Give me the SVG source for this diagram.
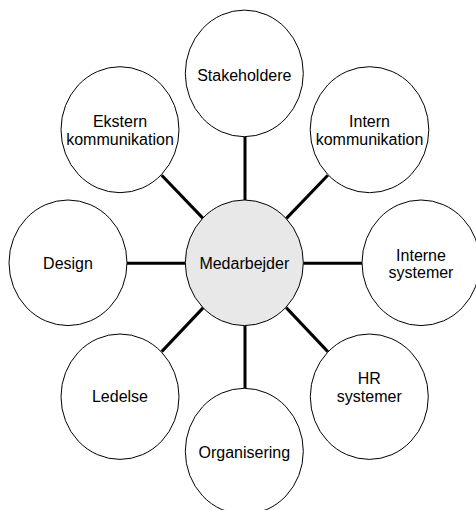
<svg xmlns="http://www.w3.org/2000/svg" width="476" height="510" viewBox="0 0 476 510">
<style>
.n{fill:#ffffff;stroke:#000000;stroke-width:1}
.c{fill:#e8e8e8;stroke:#000000;stroke-width:1}
.t{font-family:"Liberation Sans",Arial,sans-serif;font-size:16px;fill:#000000;text-anchor:middle}
.e{stroke:#000000;stroke-width:3;fill:none}
</style>
<rect width="476" height="510" fill="#ffffff"/>
<g id="connectors">
<line class="e" x1="245" y1="136.7" x2="245" y2="200"/>
<line class="e" x1="161.7" y1="175.2" x2="203.3" y2="218.6"/>
<line class="e" x1="327.8" y1="175.2" x2="286.2" y2="218.6"/>
<line class="e" x1="127" y1="263.3" x2="185.3" y2="263.3"/>
<line class="e" x1="303.3" y1="263.3" x2="362" y2="263.3"/>
<line class="e" x1="203.3" y1="307.6" x2="161.7" y2="351.6"/>
<line class="e" x1="286.2" y1="307.6" x2="327.8" y2="351.6"/>
<line class="e" x1="245" y1="325.8" x2="245" y2="388.3"/>
</g>
<g id="stakeholdere">
<ellipse class="n" cx="244.3" cy="73.4" rx="59" ry="63.3"/>
<text class="t" x="244.3" y="81">Stakeholdere</text>
</g>
<g id="ekstern">
<ellipse class="n" cx="120" cy="129.7" rx="59" ry="63"/>
<text class="t" x="120" y="126.7">Ekstern</text>
<text class="t" x="120" y="144.5">kommunikation</text>
</g>
<g id="intern">
<ellipse class="n" cx="369.5" cy="129.7" rx="59.3" ry="63"/>
<text class="t" x="369.5" y="126.7">Intern</text>
<text class="t" x="369.5" y="144.5">kommunikation</text>
</g>
<g id="medarbejder">
<ellipse class="c" cx="244.3" cy="262.8" rx="59" ry="62.8"/>
<text class="t" x="244.3" y="269">Medarbejder</text>
</g>
<g id="design">
<ellipse class="n" cx="68" cy="262.8" rx="59" ry="62.8"/>
<text class="t" x="68" y="268.5">Design</text>
</g>
<g id="interne">
<ellipse class="n" cx="421" cy="262.8" rx="59" ry="62.8"/>
<text class="t" x="421" y="260.7">Interne</text>
<text class="t" x="421" y="278.4">systemer</text>
</g>
<g id="ledelse">
<ellipse class="n" cx="120" cy="396.7" rx="59" ry="62.7"/>
<text class="t" x="120" y="401.7">Ledelse</text>
</g>
<g id="hr">
<ellipse class="n" cx="369.3" cy="396.7" rx="59" ry="62.7"/>
<text class="t" x="369.3" y="384">HR</text>
<text class="t" x="369.3" y="401.8">systemer</text>
</g>
<g id="organisering">
<ellipse class="n" cx="244.3" cy="451.3" rx="59" ry="63"/>
<text class="t" x="244.3" y="457.5">Organisering</text>
</g>
</svg>
